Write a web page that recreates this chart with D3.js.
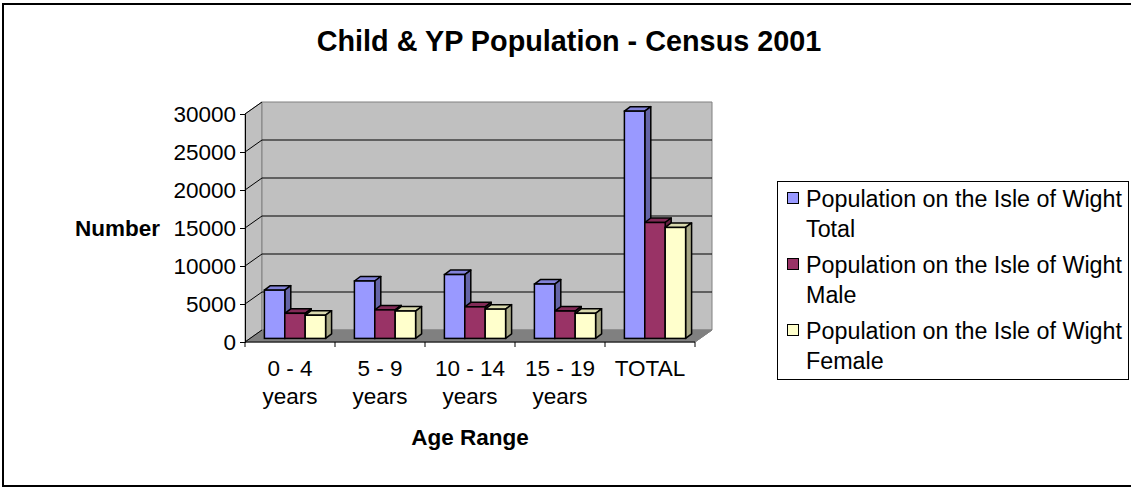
<!DOCTYPE html>
<html>
<head>
<meta charset="utf-8">
<script src="https://cdn.jsdelivr.net/npm/d3@7"></script>
<style>
  body { margin: 0; background: #fff; }
  svg { display: block; font-family: "Liberation Sans", Arial, sans-serif; }
</style>
</head>
<body>
<script>
// chart data
const categories = ["0 - 4 years", "5 - 9 years", "10 - 14 years", "15 - 19 years", "TOTAL"];
const seriesNames = [
  "Population on the Isle of Wight Total",
  "Population on the Isle of Wight Male",
  "Population on the Isle of Wight Female"
];
const totalValues = [6350, 7550, 8400, 7150, 29900];
const maleValues = [3300, 3750, 4150, 3600, 15250];
const femaleValues = [3050, 3600, 3850, 3300, 14600];
const yTicks = [0, 5000, 10000, 15000, 20000, 25000, 30000];
const colors = ["#9999ff", "#993366", "#ffffcc"];

const series = [totalValues, maleValues, femaleValues];

const width = 1131;
const height = 488;
const depthX = 17;   // wall depth offset
const depthY = -12;
const barOffX = 5;   // where bars sit on the floor
const barOffY = -3.6;
const barDX = 6;     // bar depth
const barDY = -4.5;
const fs = 22.5;

const svg = d3.select("body")
  .append("svg")
  .attr("width", width)
  .attr("height", height);

// outer frame
svg.append("rect")
  .attr("x", 3).attr("y", 4)
  .attr("width", 1135).attr("height", 482)
  .attr("fill", "#fff")
  .attr("stroke", "#000")
  .attr("stroke-width", 2);

svg.append("text")
  .attr("x", 569).attr("y", 51)
  .attr("text-anchor", "middle")
  .attr("font-weight", "bold")
  .attr("font-size", 28.8)
  .text("Child & YP Population - Census 2001");

const x = d3.scaleBand()
  .domain(categories)
  .range([245, 695])
  .paddingInner(0.32)
  .paddingOuter(0.16);

const y = d3.scaleLinear()
  .domain([0, 30000])
  .range([342, 114]);

const x0 = x.range()[0], x1 = x.range()[1];
const yTop = y(30000), yBase = y(0);

const pts = (arr) => arr.map(p => p.join(",")).join(" ");

// side wall
svg.append("polygon")
  .attr("points", pts([[x0, yBase], [x0 + depthX, yBase + depthY], [x0 + depthX, yTop + depthY], [x0, yTop]]))
  .attr("fill", "#c0c0c0")
  .attr("stroke", "#808080");

// back wall
svg.append("polygon")
  .attr("points", pts([[x0 + depthX, yBase + depthY], [x1 + depthX, yBase + depthY], [x1 + depthX, yTop + depthY], [x0 + depthX, yTop + depthY]]))
  .attr("fill", "#c0c0c0")
  .attr("stroke", "#808080");

// floor
svg.append("polygon")
  .attr("points", pts([[x0, yBase], [x1, yBase], [x1 + depthX, yBase + depthY], [x0 + depthX, yBase + depthY]]))
  .attr("fill", "#808080")
  .attr("stroke", "#808080");

// gridlines on back and side walls
const grid = svg.append("g");
yTicks.filter(t => t > 0 && t < 30000).forEach(t => {
  grid.append("line")
    .attr("x1", x0 + depthX).attr("x2", x1 + depthX)
    .attr("y1", y(t) + depthY).attr("y2", y(t) + depthY)
    .attr("stroke", "#000");
});
yTicks.forEach(t => {
  grid.append("line")
    .attr("x1", x0).attr("x2", x0 + depthX)
    .attr("y1", y(t)).attr("y2", y(t) + depthY)
    .attr("stroke", "#000");
});

// bars
const bw = x.bandwidth() / 3;
const bars = svg.append("g");
categories.forEach((cat, i) => {
  series.forEach((vals, j) => {
    const c = d3.color(colors[j]);
    const bx = x(cat) + j * bw + barOffX;
    const base = y(0) + barOffY;
    const top = y(vals[i]) + barOffY;
    bars.append("polygon")
      .attr("points", pts([[bx, top], [bx + barDX, top + barDY], [bx + bw + barDX, top + barDY], [bx + bw, top]]))
      .attr("fill", c.darker(0.45))
      .attr("stroke", "#000").attr("stroke-width", 1.5).attr("stroke-linejoin", "round");
    bars.append("polygon")
      .attr("points", pts([[bx + bw, top], [bx + bw + barDX, top + barDY], [bx + bw + barDX, base + barDY], [bx + bw, base]]))
      .attr("fill", c.darker(1.2))
      .attr("stroke", "#000").attr("stroke-width", 1.5).attr("stroke-linejoin", "round");
    bars.append("rect")
      .attr("x", bx).attr("y", top)
      .attr("width", bw).attr("height", base - top)
      .attr("fill", colors[j])
      .attr("stroke", "#000").attr("stroke-width", 1.5);
  });
});

// y axis
const yAxis = svg.append("g")
  .attr("transform", `translate(${x0},0)`)
  .call(d3.axisLeft(y).tickValues(yTicks).tickSize(5).tickPadding(4).tickFormat(d3.format("d")));
yAxis.select(".domain").attr("stroke", "#000");
yAxis.selectAll("text").attr("font-size", fs).attr("font-family", null).attr("fill", "#000");

// x axis with ticks at category boundaries
const xAxis = svg.append("g")
  .attr("transform", `translate(0,${yBase})`);
xAxis.append("line")
  .attr("x1", x0).attr("x2", x1)
  .attr("stroke", "#000");
const step = x.step();
d3.range(categories.length + 1).forEach(k => {
  xAxis.append("line")
    .attr("x1", x0 + k * step).attr("x2", x0 + k * step)
    .attr("y1", 0).attr("y2", 5)
    .attr("stroke", "#000");
});
svg.append("line")
  .attr("x1", x1).attr("y1", yBase)
  .attr("x2", x1 + depthX).attr("y2", yBase + depthY)
  .attr("stroke", "#808080");

categories.forEach(cat => {
  const cx = x(cat) + x.bandwidth() / 2;
  const m = cat.match(/^(.*) (years)$/);
  const lines = m ? [m[1], m[2]] : [cat];
  const t = svg.append("text")
    .attr("text-anchor", "middle")
    .attr("font-size", fs);
  lines.forEach((ln, k) => {
    t.append("tspan").attr("x", cx).attr("y", 376 + k * 28).text(ln);
  });
});

svg.append("text")
  .attr("x", 470).attr("y", 445)
  .attr("text-anchor", "middle")
  .attr("font-weight", "bold")
  .attr("font-size", fs)
  .text("Age Range");

svg.append("text")
  .attr("x", 160).attr("y", 236)
  .attr("text-anchor", "end")
  .attr("font-weight", "bold")
  .attr("font-size", fs)
  .text("Number");

// legend
const legend = svg.append("g");
legend.append("rect")
  .attr("x", 777.5).attr("y", 181.5)
  .attr("width", 351).attr("height", 198)
  .attr("fill", "#fff")
  .attr("stroke", "#000");

seriesNames.forEach((name, j) => {
  const cut = name.lastIndexOf(" ");
  const lines = [name.slice(0, cut), name.slice(cut + 1)];
  const ly = 207 + j * 66;
  legend.append("rect")
    .attr("x", 787.5).attr("y", ly - 14.5)
    .attr("width", 11).attr("height", 11)
    .attr("fill", colors[j])
    .attr("stroke", "#000");
  const t = legend.append("text").attr("font-size", 23.3);
  lines.forEach((ln, k) => {
    t.append("tspan").attr("x", 806).attr("y", ly + k * 30).text(ln);
  });
});
</script>
</body>
</html>
